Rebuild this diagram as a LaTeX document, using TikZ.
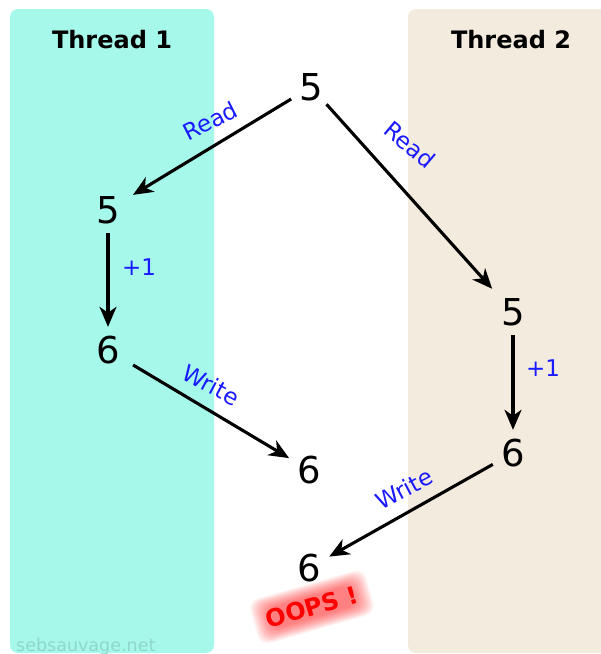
\documentclass[tikz,border=0pt]{standalone}
\usepackage{fontspec}
\setmainfont{DejaVu Sans}
\usetikzlibrary{arrows.meta}
\definecolor{tealbg}{HTML}{A6F8EA}
\definecolor{sandbg}{HTML}{F3EBDD}
\definecolor{lblblue}{HTML}{1A1AFF}
\definecolor{wmark}{HTML}{8ED8CB}
\begin{document}
\begin{tikzpicture}[x=1pt,y=-1pt,
  num/.style={circle, inner sep=0pt, minimum size=46pt, font=\fontsize{37}{42}\selectfont},
  arr/.style={-{Stealth[length=20pt,width=17pt,inset=6pt]}, line width=3.1pt},
  lbl/.style={text=lblblue, font=\fontsize{23}{27}\selectfont, inner sep=0pt},
  head/.style={font=\bfseries\fontsize{24}{28}\selectfont},
  panel/.style={rounded corners=8pt}]
\useasboundingbox (0,0) rectangle (601,654);
\fill[tealbg, panel] (10,9) rectangle (214,653);
\fill[sandbg, panel] (408,9) rectangle (625,653);
\node[head] (h1) at (112,40) {Thread 1};
\node[head] (h2) at (511,40) {Thread 2};
\node[text=wmark, font=\fontsize{17.5}{20}\selectfont, anchor=base west, inner sep=0pt] (wm) at (16,651) {sebsauvage.net};

\node[num] (t5) at (311,87) {5};
\node[num] (l5) at (108,210) {5};
\node[num] (l6) at (108,350) {6};
\node[num] (m6) at (309,470) {6};
\node[num] (r5) at (513,312) {5};
\node[num] (r6) at (513,453) {6};
\node[num] (b6) at (309,568) {6};

\draw[arr, shorten >=6pt] (t5) -- (l5);
\draw[arr, shorten >=8pt] (t5) -- (r5);
\draw[arr] (l5) -- (l6);
\draw[arr, shorten <=6pt] (l6) -- (m6);
\draw[arr] (r5) -- (r6);
\draw[arr] (r6) -- (b6);

\node[lbl, rotate=27] (rd1) at (210,121) {Read};
\node[lbl, rotate=-40] (rd2) at (410,145) {Read};
\node[lbl] (p1) at (139,267) {+1};
\node[lbl] (p2) at (543,368) {+1};
\node[lbl, rotate=-28] (wr1) at (211,385) {Write};
\node[lbl, rotate=28] (wr2) at (404,489) {Write};

\begin{scope}[shift={(312,607)}, rotate=16]
  \foreach \i in {0,...,11}
    \fill[red, opacity=0.055, rounded corners=10pt] (-60+1.5*\i,-23+1.1*\i) rectangle (60-1.5*\i,23-1.1*\i);
\end{scope}
\node[rotate=16, text=red, font=\bfseries\fontsize{24}{28}\selectfont] (oops) at (312,607) {OOPS !};
\end{tikzpicture}
\end{document}
